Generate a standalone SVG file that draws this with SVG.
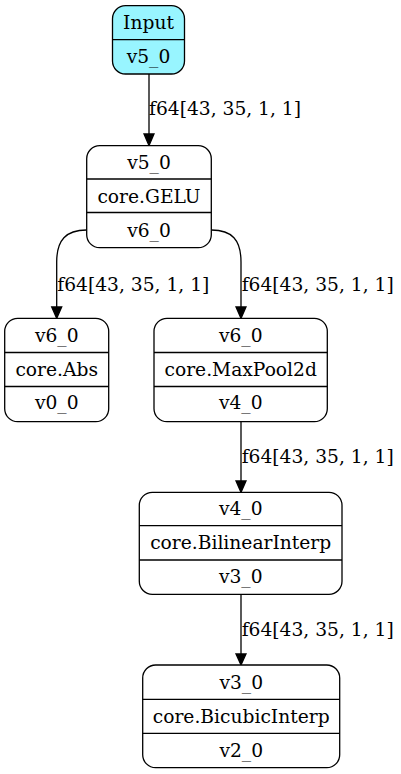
<svg xmlns="http://www.w3.org/2000/svg" width="401" height="774" viewBox="0 0 401 774">
<defs>
<style>
.box{fill:#ffffff;stroke:#000;stroke-width:1.3}
.inp{fill:#98f5ff;stroke:#000;stroke-width:1.3}
.div{stroke:#000;stroke-width:1.3}
.t{font-family:"DejaVu Serif",serif;font-size:18.67px;fill:#000;text-anchor:middle}
.lbl{font-family:"DejaVu Serif",serif;font-size:18.67px;fill:#000}
.edge{fill:none;stroke:#000;stroke-width:1.3}
.ah{fill:#000;stroke:#000;stroke-width:1.3}
</style>
</defs>
<rect width="401" height="774" fill="#ffffff"/>
<g id="connectors">
<path class="edge" d="M149,74 V134"/>
<polygon class="ah" points="144,134 154,134 149,145.5"/>
<text class="lbl" x="149" y="114.5">f64[43, 35, 1, 1]</text>
<path class="edge" d="M86.5,230 C66,230 56.7,240 56.7,262 V307"/>
<polygon class="ah" points="51.7,307 61.7,307 56.7,318.3"/>
<text class="lbl" x="57.3" y="290.5">f64[43, 35, 1, 1]</text>
<path class="edge" d="M211.5,230 C232,230 241,240 241,262 V307"/>
<polygon class="ah" points="236,307 246,307 241,318.3"/>
<text class="lbl" x="241.7" y="290.5">f64[43, 35, 1, 1]</text>
<path class="edge" d="M241,421.7 V481"/>
<polygon class="ah" points="236,481 246,481 241,492.3"/>
<text class="lbl" x="241.7" y="462.5">f64[43, 35, 1, 1]</text>
<path class="edge" d="M241,594.3 V654"/>
<polygon class="ah" points="236,654 246,654 241,665"/>
<text class="lbl" x="241.7" y="636">f64[43, 35, 1, 1]</text>
</g>
<g id="input">
<rect class="inp" x="112.5" y="5.7" width="72" height="68.3" rx="13" ry="13"/>
<line class="div" x1="112.5" y1="39.7" x2="184.5" y2="39.7"/>
<text class="t" x="148.5" y="29.3">Input</text>
<text class="t" x="148.5" y="63.3">v5_0</text>
</g>
<g id="gelu">
<rect class="box" x="86.7" y="145.7" width="124.6" height="102" rx="13" ry="13"/>
<line class="div" x1="86.7" y1="179" x2="211.3" y2="179"/>
<line class="div" x1="86.7" y1="212.5" x2="211.3" y2="212.5"/>
<text class="t" x="149" y="169">v5_0</text>
<text class="t" x="149" y="203">core.GELU</text>
<text class="t" x="149" y="236.5">v6_0</text>
</g>
<g id="abs">
<rect class="box" x="4.7" y="318.3" width="104" height="103.4" rx="13" ry="13"/>
<line class="div" x1="4.7" y1="352.5" x2="108.7" y2="352.5"/>
<line class="div" x1="4.7" y1="386.5" x2="108.7" y2="386.5"/>
<text class="t" x="56.7" y="341.5">v6_0</text>
<text class="t" x="56.7" y="375.5">core.Abs</text>
<text class="t" x="56.7" y="409">v0_0</text>
</g>
<g id="maxpool">
<rect class="box" x="154" y="318.3" width="173.3" height="103.4" rx="13" ry="13"/>
<line class="div" x1="154" y1="352.5" x2="327.3" y2="352.5"/>
<line class="div" x1="154" y1="386.5" x2="327.3" y2="386.5"/>
<text class="t" x="240.7" y="341.5">v6_0</text>
<text class="t" x="240.7" y="375.5">core.MaxPool2d</text>
<text class="t" x="240.7" y="409">v4_0</text>
</g>
<g id="bilinear">
<rect class="box" x="139.3" y="492.3" width="202.7" height="102" rx="13" ry="13"/>
<line class="div" x1="139.3" y1="525.7" x2="342" y2="525.7"/>
<line class="div" x1="139.3" y1="560" x2="342" y2="560"/>
<text class="t" x="240.7" y="515">v4_0</text>
<text class="t" x="240.7" y="549">core.BilinearInterp</text>
<text class="t" x="240.7" y="583">v3_0</text>
</g>
<g id="bicubic">
<rect class="box" x="142.7" y="665" width="197" height="102.7" rx="13" ry="13"/>
<line class="div" x1="142.7" y1="699.3" x2="339.7" y2="699.3"/>
<line class="div" x1="142.7" y1="733.3" x2="339.7" y2="733.3"/>
<text class="t" x="241.2" y="688.5">v3_0</text>
<text class="t" x="241.2" y="722.5">core.BicubicInterp</text>
<text class="t" x="241.2" y="756.5">v2_0</text>
</g>
</svg>
